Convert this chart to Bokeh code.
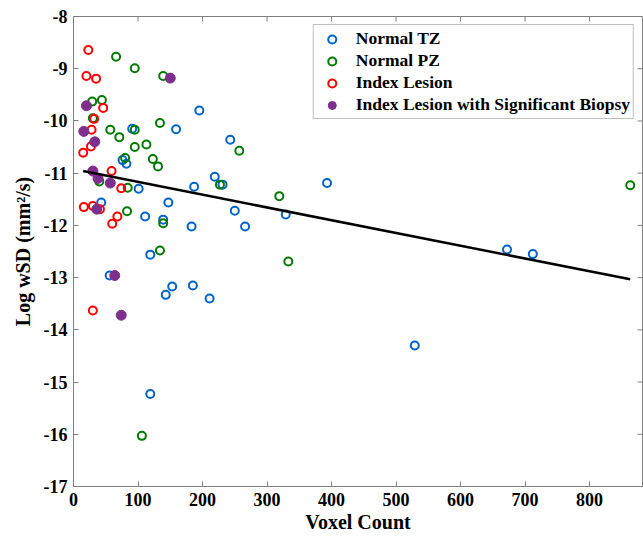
import math
from bokeh.plotting import figure
from bokeh.models import Range1d, FixedTicker, Legend, LegendItem
from bokeh.embed import file_html
from bokeh.resources import INLINE

# ---- data ----
tz_x = [91, 159, 195, 243, 76, 82, 101, 43, 147, 111, 139, 187, 219, 231, 250, 183, 266,
        119, 56, 143, 153, 185, 211, 119, 393, 329, 672, 712, 529]
tz_y = [-10.15, -10.16, -9.80, -10.36, -10.75, -10.82, -11.30, -11.56, -11.56, -11.83, -11.89,
        -11.26, -11.07, -11.22, -11.72, -12.02, -12.02, -12.56, -12.96, -13.33, -13.17, -13.15,
        -13.40, -15.23, -11.19, -11.79, -12.46, -12.55, -14.30]

pz_x = [66, 95, 139, 29, 44, 30, 57, 71, 95, 134, 95, 113, 80, 123, 131, 40, 84, 227, 257,
        319, 83, 139, 134, 106, 333, 863]
pz_y = [-8.77, -8.99, -9.14, -9.63, -9.60, -9.95, -10.17, -10.31, -10.17, -10.04, -10.50,
        -10.45, -10.71, -10.73, -10.87, -11.16, -11.28, -11.22, -10.57, -11.44, -11.73, -11.96,
        -12.48, -16.03, -12.69, -11.23]

idx_x = [23, 20, 35, 46, 32, 28, 27, 15, 59, 74, 16, 30, 41, 68, 60, 30]
idx_y = [-8.64, -9.14, -9.19, -9.75, -9.96, -10.17, -10.49, -10.61, -10.96, -11.29, -11.65,
         -11.63, -11.69, -11.83, -11.97, -13.63]

sig_x = [20, 16, 33, 30, 38, 57, 36, 150, 64, 74]
sig_y = [-9.71, -10.20, -10.40, -10.96, -11.10, -11.19, -11.69, -9.18, -12.96, -13.72]

# least-squares fit line
fit_intercept = -10.923
fit_slope = -0.002444

x_ticks = [0, 100, 200, 300, 400, 500, 600, 700, 800]
y_ticks = [-8, -9, -10, -11, -12, -13, -14, -15, -16, -17]
x_lim = (0, 882)
y_lim = (-17, -8)

FONT = "Liberation Serif"
AXIS_COL = "#808080"

p = figure(width=643, height=538, output_backend="svg", toolbar_location=None,
           x_range=Range1d(*x_lim), y_range=Range1d(*y_lim),
           min_border_left=73, min_border_right=1, min_border_top=16, min_border_bottom=52)
p.outline_line_color = AXIS_COL
p.outline_line_width = 1
p.xgrid.visible = False
p.ygrid.visible = False
p.background_fill_color = "white"

def style_axis(ax):
    ax.axis_line_color = AXIS_COL
    ax.major_tick_line_color = AXIS_COL
    ax.major_tick_in = 5
    ax.major_tick_out = 0
    ax.minor_tick_line_color = None
    ax.major_label_text_font = FONT
    ax.major_label_text_font_style = "bold"
    ax.major_label_text_font_size = "18px"
    ax.major_label_text_color = "black"
    ax.axis_label_text_font = FONT
    ax.axis_label_text_font_style = "bold"
    ax.axis_label_text_font_size = "20px"
    ax.axis_label_text_color = "black"

xa = p.xaxis[0]
xa.ticker = FixedTicker(ticks=x_ticks)
xa.major_label_overrides = {t: str(t) for t in x_ticks}
xa.axis_label = "Voxel Count"
style_axis(xa)
xa.major_label_standoff = 6
xa.axis_label_standoff = 2

ya = p.yaxis[0]
ya.ticker = FixedTicker(ticks=y_ticks)
ya.major_label_overrides = {t: str(t) for t in y_ticks}
ya.axis_label = "Log wSD (mm\u00b2/s)"
style_axis(ya)
ya.major_label_standoff = 6
ya.axis_label_standoff = 7

# inward ticks on the top and right edges of the box
p.scatter(x_ticks, [y_lim[1]] * len(x_ticks), marker="dash", angle=math.pi / 2, size=10,
          line_color=AXIS_COL, line_width=1)
p.scatter([x_lim[1]] * len(y_ticks), y_ticks, marker="dash", size=10,
          line_color=AXIS_COL, line_width=1)

r_tz = p.scatter(tz_x, tz_y, marker="circle", size=8, fill_color=None,
                 line_color="#0064C8", line_width=2)
r_pz = p.scatter(pz_x, pz_y, marker="circle", size=8, fill_color=None,
                 line_color="#007A00", line_width=2)
r_idx = p.scatter(idx_x, idx_y, marker="circle", size=8, fill_color=None,
                  line_color="#FF0000", line_width=2)
r_sig = p.scatter(sig_x, sig_y, marker="circle", size=10, fill_color="#7E2F8E",
                  line_color="#7E2F8E", line_width=1)

all_x = tz_x + pz_x + idx_x + sig_x
lx = [min(all_x), max(all_x)]
ly = [fit_intercept + fit_slope * v for v in lx]
p.line(lx, ly, line_color="black", line_width=2.5)

legend = Legend(items=[
    LegendItem(label="Normal TZ", renderers=[r_tz]),
    LegendItem(label="Normal PZ", renderers=[r_pz]),
    LegendItem(label="Index Lesion", renderers=[r_idx]),
    LegendItem(label="Index Lesion with Significant Biopsy", renderers=[r_sig]),
], location="top_right")
legend.label_text_font = FONT
legend.label_text_font_style = "bold"
legend.label_text_font_size = "17.5px"
legend.label_text_color = "black"
legend.border_line_color = AXIS_COL
legend.border_line_width = 1
legend.background_fill_alpha = 1
legend.padding = 3
legend.spacing = 1
legend.glyph_width = 30
legend.glyph_height = 20
legend.label_height = 20
legend.label_standoff = 9
legend.margin = 8
p.add_layout(legend, "center")

open("out.html", "w").write(file_html(p, INLINE))
